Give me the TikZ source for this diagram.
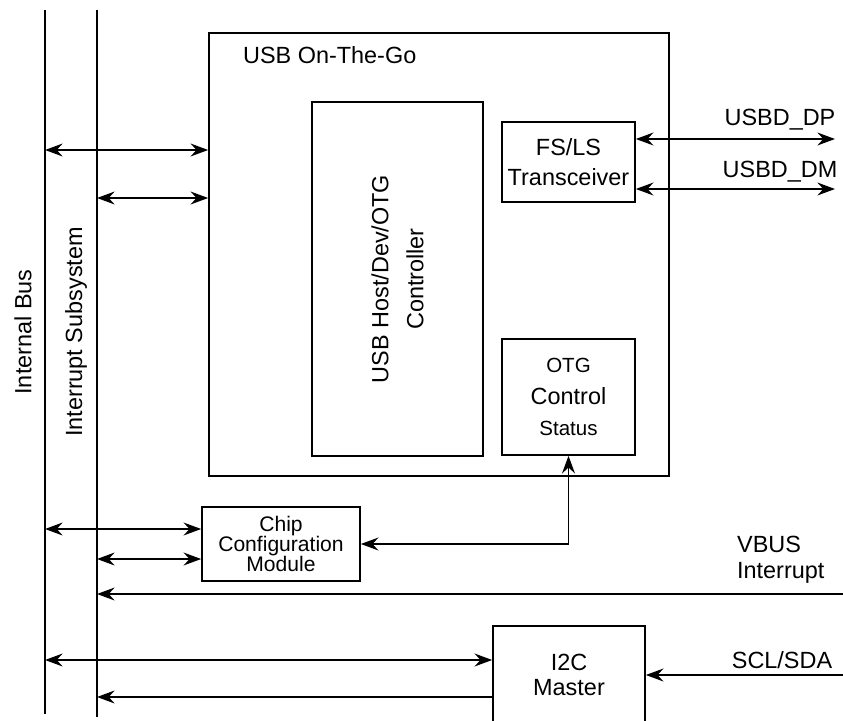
\documentclass[tikz,border=0pt]{standalone}
\usepackage{fontspec}
\setmainfont{Liberation Sans}
\usetikzlibrary{arrows.meta, positioning}

\newcommand{\smtxt}{\fontsize{17.5}{27}\selectfont}

\begin{document}
\begin{tikzpicture}[x=0.3mm, y=-0.3mm,
  every node/.style={font=\fontsize{20}{25.6}\selectfont},
  box/.style={draw, rectangle, line width=1.4pt, align=center, inner sep=0pt},
  bus/.style={line width=1.4pt},
  link/.style={line width=1.4pt, -{Stealth[length=15pt, width=11pt, inset=5pt]}},
  dlink/.style={line width=1.4pt, {Stealth[length=15pt, width=11pt, inset=5pt]}-{Stealth[length=15pt, width=11pt, inset=5pt]}}]
\useasboundingbox (0,0) rectangle (843,721);
\clip (0,0) rectangle (843,721);

% Buses
\coordinate (ibtop) at (45,10);
\coordinate (ibbot) at (45,714);
\coordinate (istop) at (97,10);
\coordinate (isbot) at (97,717);
\draw[bus] (ibtop) -- (ibbot);
\draw[bus] (istop) -- (isbot);
\node[rotate=90] (iblbl) at (23,332) {Internal Bus};
\node[rotate=90] (islbl) at (76,332) {Interrupt Subsystem};

% USB On-The-Go block
\node[box, minimum width=138mm, minimum height=132.9mm] (usb) at (439,254.5) {};
\node[anchor=west] (usblbl) at (239,55) {USB On-The-Go};
\node[box, rotate=90, minimum width=106.2mm, minimum height=51.3mm, font=\fontsize{20}{30}\selectfont] (ctrl) at (397.5,279) {USB Host/Dev/OTG\\Controller};
\node[box, minimum width=39.9mm, minimum height=24mm] (xcvr) at (568.5,162) {FS/LS\\Transceiver};
\node[box, minimum width=39.9mm, minimum height=34.8mm, font=\fontsize{20}{27}\selectfont] (otg) at (568.5,397) {{\smtxt OTG}\\Control\\{\smtxt Status}};

% Other blocks
\node[box, minimum width=47.4mm, minimum height=22.2mm, font=\fontsize{18}{17}\selectfont] (chip) at (281,544) {Chip\\Configuration\\Module};
\node[box, minimum width=45.6mm, minimum height=29.4mm, font=\fontsize{20}{21.3}\selectfont] (i2c) at (569,675) {I2C\\Master};

% Bus connections
\coordinate (u1) at (45,150);
\coordinate (u2) at (97,198);
\draw[dlink] (u1) -- (u1 -| usb.west);
\draw[dlink] (u2) -- (u2 -| usb.west);
\coordinate (c1) at (45,529);
\coordinate (c2) at (97,559);
\draw[dlink] (c1) -- (c1 -| chip.west);
\draw[dlink] (c2) -- (c2 -| chip.west);
\draw[dlink] (chip.east) -| (otg.south);
\coordinate (m1) at (45,660);
\coordinate (m2) at (97,697);
\draw[dlink] (m1) -- (m1 -| i2c.west);
\draw[link] (m2 -| i2c.west) -- (m2);

% External signals
\coordinate (dp) at (835,139);
\coordinate (dm) at (835,189);
\draw[dlink] (xcvr.east |- dp) -- (dp);
\draw[dlink] (xcvr.east |- dm) -- (dm);
\node (dplbl) at (780,120) {USBD\_DP};
\node (dmlbl) at (780,172) {USBD\_DM};
\coordinate (vb) at (843,594);
\draw[link] (vb) -- (vb -| istop);
\node[anchor=west, align=left, font=\fontsize{20}{22}\selectfont] (vblbl) at (733,560) {VBUS\\Interrupt};
\coordinate (sc) at (843,675);
\draw[link] (sc) -- (i2c.east);
\node (sclbl) at (782,660) {SCL/SDA};

\end{tikzpicture}
\end{document}
